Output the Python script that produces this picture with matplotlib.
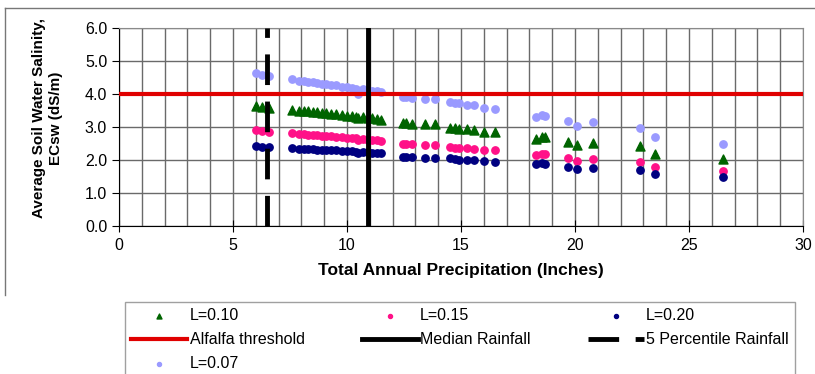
import matplotlib
matplotlib.use('Agg')
import matplotlib.pyplot as plt
from matplotlib.lines import Line2D
from matplotlib.ticker import MultipleLocator

plt.rcParams['font.family'] = ['Liberation Sans', 'DejaVu Sans']

# annual precipitation (inches) for each simulated year
precip = [6.0, 6.25, 6.6,
          7.6, 7.9, 8.1, 8.3, 8.5, 8.7, 8.9, 9.1, 9.3, 9.5,
          9.8, 10.0, 10.2, 10.4, 10.5, 10.7, 10.9, 11.1, 11.3, 11.5,
          12.45, 12.6, 12.85, 13.4, 13.85, 14.5, 14.75, 14.9, 15.25, 15.55,
          16.0, 16.5, 18.3, 18.55, 18.7, 19.7, 20.1, 20.8,
          22.85, 23.5, 26.5]

# average soil water salinity ECsw (dS/m) for each leaching fraction
ec_l007 = [4.63, 4.58, 4.55,
           4.44, 4.40, 4.38, 4.37, 4.35, 4.33, 4.31, 4.29, 4.28, 4.26,
           4.22, 4.20, 4.18, 4.16, 4.00, 4.14, 4.12, 4.10, 4.08, 4.06,
           3.92, 3.90, 3.87, 3.85, 3.85, 3.77, 3.74, 3.72, 3.67, 3.66,
           3.57, 3.55, 3.31, 3.36, 3.34, 3.19, 3.04, 3.16,
           2.98, 2.69, 2.47]
ec_l010 = [3.65, 3.62, 3.58,
           3.52, 3.49, 3.48, 3.47, 3.46, 3.44, 3.43, 3.41, 3.40, 3.38,
           3.36, 3.34, 3.33, 3.31, 3.26, 3.29, 3.27, 3.26, 3.24, 3.22,
           3.11, 3.13, 3.09, 3.08, 3.08, 2.98, 2.96, 2.95, 2.93, 2.91,
           2.86, 2.86, 2.63, 2.71, 2.69, 2.55, 2.45, 2.52,
           2.42, 2.18, 2.03]
ec_l015 = [2.91, 2.88, 2.86,
           2.81, 2.79, 2.78, 2.77, 2.76, 2.75, 2.74, 2.73, 2.72, 2.71,
           2.69, 2.68, 2.67, 2.66, 2.62, 2.64, 2.62, 2.61, 2.60, 2.58,
           2.48, 2.48, 2.47, 2.45, 2.45, 2.38, 2.37, 2.36, 2.35, 2.34,
           2.29, 2.29, 2.15, 2.18, 2.17, 2.07, 1.98, 2.04,
           1.95, 1.79, 1.68]
ec_l020 = [2.42, 2.40, 2.40,
           2.35, 2.34, 2.33, 2.33, 2.32, 2.31, 2.31, 2.30, 2.29, 2.29,
           2.28, 2.27, 2.26, 2.25, 2.22, 2.24, 2.23, 2.22, 2.21, 2.20,
           2.10, 2.10, 2.09, 2.07, 2.07, 2.05, 2.02, 2.01, 2.00, 2.00,
           1.97, 1.95, 1.87, 1.90, 1.87, 1.80, 1.73, 1.76,
           1.70, 1.58, 1.48]

alfalfa_threshold = 4.0
median_rain = 10.9
pct5_rain = 6.5

fig = plt.figure(figsize=(8.15, 3.74), dpi=100)
ax = fig.add_axes([119/815, 1 - 226/374, 684/815, 198/374])

s10 = ax.scatter(precip, ec_l010, marker='^', s=42, color='#006400', zorder=3, label='L=0.10')
s15 = ax.scatter(precip, ec_l015, marker='o', s=28, color='#ff1188', zorder=3, label='L=0.15')
s20 = ax.scatter(precip, ec_l020, marker='o', s=28, color='#000080', zorder=3, label='L=0.20')
s07 = ax.scatter(precip, ec_l007, marker='o', s=28, color='#9a9aff', zorder=3, label='L=0.07')

alf, = ax.plot([0, 30], [alfalfa_threshold, alfalfa_threshold], color='#e00000', lw=3, zorder=4,
               label='Alfalfa threshold')
med, = ax.plot([median_rain, median_rain], [0, 6], color='black', lw=3.5, zorder=4,
               label='Median Rainfall')
p5, = ax.plot([pct5_rain, pct5_rain], [0, 6], color='black', lw=3.5, zorder=4,
              dashes=(6.3, 3.4), label='5 Percentile Rainfall')

ax.set_xlim(0, 30)
ax.set_ylim(0, 6)
ax.xaxis.set_major_locator(MultipleLocator(5))
ax.xaxis.set_minor_locator(MultipleLocator(1))
ax.yaxis.set_major_locator(MultipleLocator(1))
ax.set_yticklabels([f'{v:.1f}' for v in ax.get_yticks()])
ax.grid(True, which='both', color='#6a6a6a', lw=1, zorder=1)
ax.set_axisbelow(True)
ax.tick_params(axis='both', which='major', labelsize=11.5, length=5, color='black')
ax.tick_params(axis='x', which='major', direction='inout', length=8, pad=5)
ax.tick_params(axis='both', which='minor', length=0)
for side in ['top', 'right']:
    ax.spines[side].set_color('#8a8a8a')
ax.spines['left'].set_color('black')
ax.spines['bottom'].set_color('black')

ax.set_xlabel('Total Annual Precipitation (Inches)', fontsize=12.5, fontweight='bold', labelpad=7)
ax.set_ylabel('Average Soil Water Salinity,\nECsw (dS/m)', fontsize=11, fontweight='bold',
              linespacing=1.3)
ax.yaxis.set_label_coords(-0.082, 0.545)

handles = [s10, alf, s07, s15, med, s20, p5]
fig.legend(handles=handles, labels=[h.get_label() for h in handles], ncol=3,
           loc='upper left', bbox_to_anchor=(125/815, 1 - 302/374, 670/815, 0),
           bbox_transform=fig.transFigure, mode='expand', borderaxespad=0,
           fontsize=11.5, frameon=True, fancybox=False, edgecolor='#888888',
           handlelength=3.5, handletextpad=0.15, markerscale=0.55, scatterpoints=1,
           labelspacing=0.55, borderpad=0.4)

# outer chart frame
fig.add_artist(Line2D([5/815, 5/815], [1 - 8/374, 1 - 295/374], transform=fig.transFigure,
                      color='#777777', lw=1))
fig.add_artist(Line2D([5/815, 1.0], [1 - 8/374, 1 - 8/374], transform=fig.transFigure,
                      color='#777777', lw=1))

fig.savefig('out.png', dpi=100)
